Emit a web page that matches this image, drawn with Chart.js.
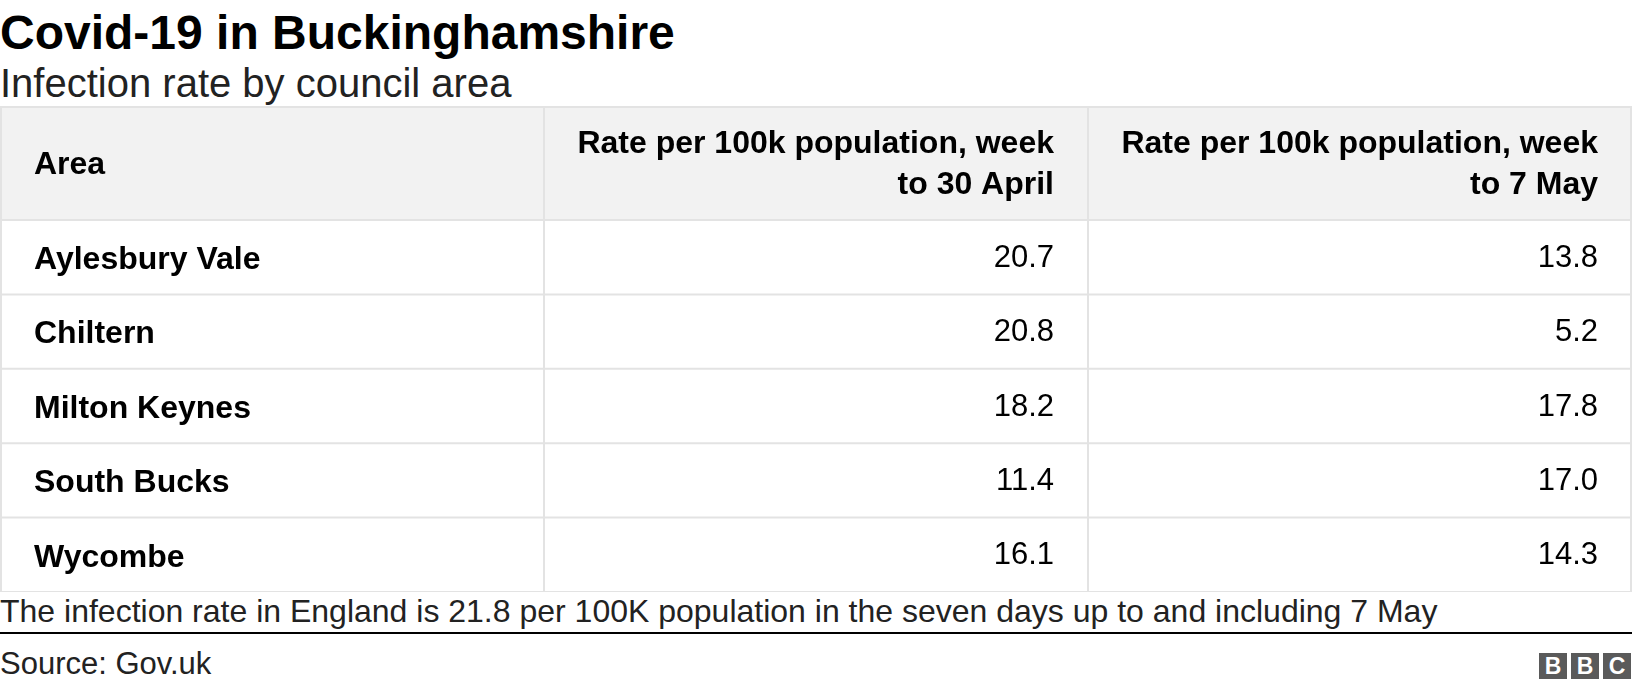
<!DOCTYPE html>
<html><head><meta charset="utf-8">
<script src="https://cdn.jsdelivr.net/npm/chart.js@4"></script>
<style>
body{margin:0;width:1632px;height:690px;background:#fff;font-family:"Liberation Sans",Arial,sans-serif;position:relative;overflow:hidden}
#t{position:absolute;left:0;top:5px;font-size:48px;font-weight:bold;color:#000;line-height:56px}
#s{position:absolute;left:0;top:60px;font-size:40px;color:#222;line-height:46px}
#wrap{position:absolute;left:0;top:106px;width:1632px;height:486px}
#f{position:absolute;left:0;top:592px;font-size:32px;color:#222;line-height:38px}
#ln{position:absolute;left:0;top:632px;width:1632px;height:2px;background:#000}
#src{position:absolute;left:0;top:645px;font-size:31px;color:#222;line-height:38px}
#bbc{position:absolute;right:1px;top:653px;display:flex;gap:4px}
#bbc div{width:28px;height:26px;background:#5a5a5a;color:#fff;font-weight:bold;font-size:23px;text-align:center;line-height:26px}
</style></head><body>
<div id="t">Covid-19 in Buckinghamshire</div>
<div id="s">Infection rate by council area</div>
<div id="wrap"><canvas id="c"></canvas></div>
<div id="f">The infection rate in England is 21.8 per 100K population in the seven days up to and including 7 May</div>
<div id="ln"></div>
<div id="src">Source: Gov.uk</div>
<div id="bbc"><div>B</div><div>B</div><div>C</div></div>
<script>
const areas=["Aylesbury Vale","Chiltern","Milton Keynes","South Bucks","Wycombe"];
const headers=["Area",["Rate per 100k population, week","to 30 April"],["Rate per 100k population, week","to 7 May"]];
const april30=[20.7,20.8,18.2,11.4,16.1];
const may7=[13.8,5.2,17.8,17.0,14.3];
const HEAD=114;
const tablePlugin={id:'table',afterDraw(ch){
  const ctx=ch.ctx,x=ch.scales.x,y=ch.scales.y,a=ch.chartArea;
  const cols=[0,1,2,3].map(v=>x.getPixelForValue(v));
  ctx.save();
  ctx.fillStyle='#f2f2f2';ctx.fillRect(cols[0],a.top-HEAD,cols[3]-cols[0],HEAD);
  ctx.strokeStyle='#e3e3e3';ctx.lineWidth=2;
  const rowH=(a.bottom-a.top)/areas.length;
  for(let i=0;i<=areas.length;i++){const yy=a.top+i*rowH;ctx.beginPath();ctx.moveTo(cols[0],yy);ctx.lineTo(cols[3],yy);ctx.stroke();}
  ctx.beginPath();ctx.moveTo(cols[0],a.top-HEAD+1);ctx.lineTo(cols[3],a.top-HEAD+1);ctx.stroke();
  cols.forEach(c=>{const cx=Math.min(Math.max(c,1),ch.width-1);ctx.beginPath();ctx.moveTo(cx,a.top-HEAD);ctx.lineTo(cx,a.bottom);ctx.stroke();});
  ctx.fillStyle='#000';ctx.textBaseline='middle';
  ctx.font='bold 32px "Liberation Sans",Arial';
  ctx.textAlign='left';ctx.fillText(headers[0],cols[0]+34,a.top-HEAD/2+2);
  ctx.textAlign='right';
  [1,2].forEach(k=>{headers[k].forEach((l,j)=>ctx.fillText(l,cols[k+1]-34,a.top-HEAD/2-19+j*41));});
  areas.forEach((n,i)=>{
    const yy=y.getPixelForValue(i)+1;
    ctx.font='bold 32px "Liberation Sans",Arial';ctx.textAlign='left';ctx.fillText(n,cols[0]+34,yy+2);
    ctx.font='31px "Liberation Sans",Arial';ctx.textAlign='right';
    ctx.fillText(april30[i].toFixed(1),cols[2]-34,yy);
    ctx.fillText(may7[i].toFixed(1),cols[3]-34,yy);
  });
  ctx.restore();
}};
new Chart(document.getElementById('c'),{type:'bar',
 data:{labels:areas,datasets:[{data:[],backgroundColor:'transparent'}]},
 options:{indexAxis:'y',responsive:true,maintainAspectRatio:false,animation:false,
  layout:{padding:{top:HEAD,left:0,right:0,bottom:0}},
  plugins:{legend:{display:false},tooltip:{enabled:false}},
  scales:{x:{type:'linear',min:0,max:3,display:false},
   y:{type:'category',display:false,offset:true}}},
 plugins:[tablePlugin]});
</script></body></html>
